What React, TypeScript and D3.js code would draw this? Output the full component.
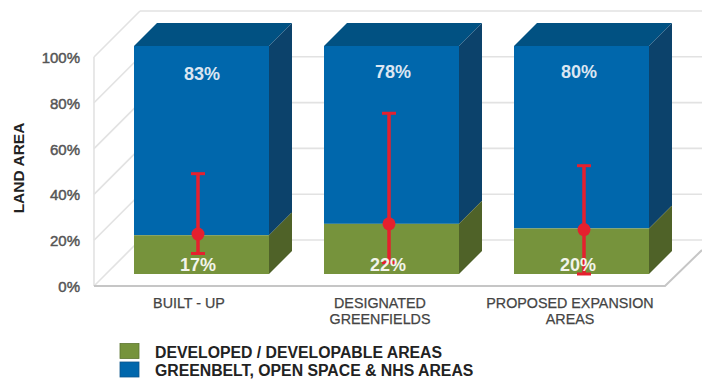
import * as d3 from "d3";

const categories = [["BUILT - UP"], ["DESIGNATED", "GREENFIELDS"], ["PROPOSED EXPANSION", "AREAS"]];
const developed = [17, 22, 20];
const greenbelt = [83, 78, 80];
const rangeLow = [9, 5, 0];
const rangeMid = [17.5, 22, 19.5];
const rangeHigh = [44, 70.5, 47.5];
const yTicks = [0, 20, 40, 60, 80, 100];
const legendItems = ["DEVELOPED / DEVELOPABLE AREAS", "GREENBELT, OPEN SPACE & NHS AREAS"];

const FONT = "'Liberation Sans', Arial, sans-serif";
const WALL_DEPTH = 46;
const BAR_DEPTH = 23;
const WIDTH = 702;
const HEIGHT = 379;

const wallY = d3.scaleLinear().domain([0, 100]).range([286, 57]);
const barY = d3.scaleLinear().domain([0, 100]).range([274, 46]);
const barX = d3.scaleLinear().domain([0, 2]).range([134, 514]);

const colors = {
  blue: "#0067ac",
  blueTop: "#015182",
  blueSide: "#0c426b",
  green: "#76933c",
  greenSide: "#4f6228",
  grid: "#e2e2e2",
  floor: "#c6c6c6",
  red: "#e5202e",
};

function poly(points: [number, number][]) {
  return d3.line()(points) + "Z";
}

export default function App() {
  const bw = 135;
  return (
    <svg
      width={WIDTH}
      height={HEIGHT}
      viewBox={`0 0 ${WIDTH} ${HEIGHT}`}
      style={{ position: "absolute", left: 0, top: 0, background: "#fff" }}
      fontFamily={FONT}
    >
      {/* Back wall and side wall grid */}
      {yTicks.map((t) => {
        const y = wallY(t);
        return (
          <g key={t} stroke={colors.grid} strokeWidth={1.6} fill="none">
            <line x1={94} y1={y} x2={94 + WALL_DEPTH} y2={y - WALL_DEPTH} />
            <line x1={140} y1={y - WALL_DEPTH} x2={WIDTH} y2={y - WALL_DEPTH} />
          </g>
        );
      })}
      <line x1={94} y1={wallY(100)} x2={94} y2={wallY(0)} stroke={colors.grid} strokeWidth={1.6} />
      <path
        d={d3.line()([[94, wallY(0)], [665, wallY(0)], [702, wallY(0) - 36]]) ?? ""}
        fill="none"
        stroke={colors.floor}
        strokeWidth={2}
      />

      {/* Tick labels */}
      {yTicks.map((t) => (
        <text
          key={t}
          x={80}
          y={wallY(t) + 6}
          textAnchor="end"
          fontSize={15}
          fill="#555"
          stroke="#555"
          strokeWidth={0.45}
        >
          {t}%
        </text>
      ))}
      <text
        transform="translate(24,168) rotate(-90)"
        textAnchor="middle"
        fontSize={15.5}
        fontWeight={700}
        fill="#222"
      >
        LAND AREA
      </text>

      {/* Stacked 3D columns */}
      {categories.map((_, i) => {
        const x = barX(i);
        const split = barY(developed[i]);
        const top = barY(developed[i] + greenbelt[i]);
        const bottom = barY(0);
        return (
          <g key={i}>
            <path
              d={poly([[x, top], [x + BAR_DEPTH, top - BAR_DEPTH], [x + bw + BAR_DEPTH, top - BAR_DEPTH], [x + bw, top]])}
              fill={colors.blueTop}
            />
            <path
              d={poly([[x + bw, top], [x + bw + BAR_DEPTH, top - BAR_DEPTH], [x + bw + BAR_DEPTH, split - BAR_DEPTH], [x + bw, split]])}
              fill={colors.blueSide}
            />
            <path
              d={poly([[x + bw, split], [x + bw + BAR_DEPTH, split - BAR_DEPTH], [x + bw + BAR_DEPTH, bottom - BAR_DEPTH], [x + bw, bottom]])}
              fill={colors.greenSide}
            />
            <rect x={x} y={top} width={bw} height={split - top} fill={colors.blue} />
            <rect x={x} y={split} width={bw} height={bottom - split} fill={colors.green} />
          </g>
        );
      })}

      {/* Range markers */}
      {categories.map((_, i) => {
        const cx = [198, 389, 584][i];
        return (
          <g key={i} stroke={colors.red} fill={colors.red}>
            <line x1={cx} x2={cx} y1={barY(rangeLow[i])} y2={barY(rangeHigh[i])} strokeWidth={3.5} />
            <line x1={cx - 7} x2={cx + 7} y1={barY(rangeHigh[i])} y2={barY(rangeHigh[i])} strokeWidth={3} />
            <line x1={cx - 7} x2={cx + 7} y1={barY(rangeLow[i])} y2={barY(rangeLow[i])} strokeWidth={3} />
            <circle cx={cx} cy={barY(rangeMid[i])} r={6.5} stroke="none" />
          </g>
        );
      })}

      {/* Value labels */}
      {categories.map((_, i) => (
        <g key={i} textAnchor="middle" fontSize={18} fontWeight={700}>
          <text x={[202, 393, 579][i]} y={[80, 78, 78][i]} fill="#dbe6f2">
            {greenbelt[i]}%
          </text>
          <text x={[198, 388, 578][i]} y={271} fill="#f2f4ea">
            {developed[i]}%
          </text>
        </g>
      ))}

      {/* Category labels */}
      {categories.map((lines, i) => (
        <text key={i} textAnchor="middle" fontSize={14.3} fill="#444" stroke="#444" strokeWidth={0.25}>
          {lines.map((l, j) => (
            <tspan key={j} x={[189, 380, 570][i]} y={308 + j * 16}>
              {l}
            </tspan>
          ))}
        </text>
      ))}

      {/* Legend */}
      {legendItems.map((label, i) => (
        <g key={label}>
          <rect
            x={120}
            y={343.5 + i * 18.5}
            width={19}
            height={15}
            fill={i === 0 ? colors.green : colors.blue}
            stroke={i === 0 ? "#5d7530" : "#0a558c"}
            strokeWidth={0.8}
          />
          <text x={155} y={358 + i * 18} fontSize={15.8} fontWeight={700} fill="#222">
            {label}
          </text>
        </g>
      ))}
    </svg>
  );
}
